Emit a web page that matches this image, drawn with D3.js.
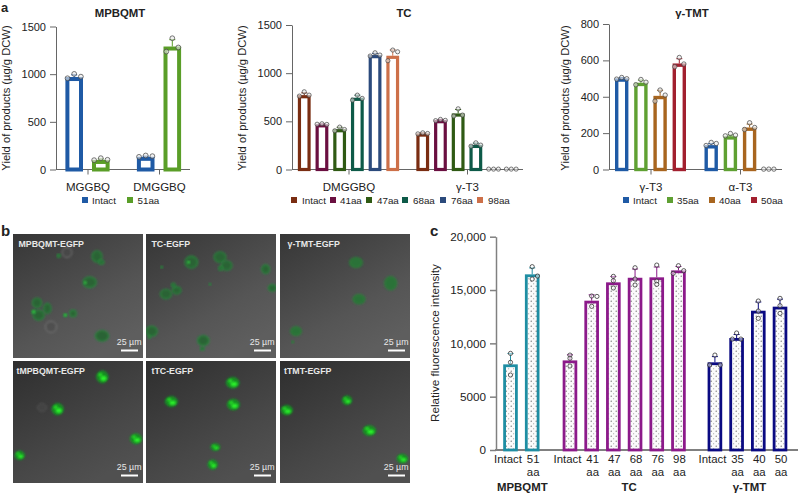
<!DOCTYPE html>
<html><head><meta charset="utf-8">
<script src="https://cdn.jsdelivr.net/npm/d3@7"></script>
<style>
html,body{margin:0;padding:0;background:#fff}
svg{display:block}
text{font-family:"Liberation Sans",Arial,sans-serif;fill:#222}
</style></head><body>
<div id="c"></div>
<script>
// ---------- DATA ----------
const a1Groups = ["MGGBQ","DMGGBQ"];
const a1Series = ["Intact","51aa"];
const a1Colors = ["#1f5aa5","#5a9e28"];
const a1Values = [[970,100],[133,1290]];
const a1Dots = [[[957,1003,974],[98,119,102]],[[133,147,140],[1237,1377,1280]]];

const a2Groups = ["DMGGBQ","γ-T3"];
const a2Series = ["Intact","41aa","47aa","68aa","76aa","98aa"];
const a2Colors = ["#7a2d12","#6a0f40","#2f5a14","#0d5a48","#2b4a7c","#cd7049"];
const a2Values = [[772,470,419,745,1188,1181],[374,513,582,256,4,4]];
const a2Dots = [
 [[762,807,772],[470,475,468],[402,440,415],[720,772,738],[1178,1212,1188],[1129,1240,1222]],
 [[370,381,374],[507,520,510],[555,630,565],[242,277,253],[4,4,4],[4,4,4]]];

const a3Groups = ["γ-T3","α-T3"];
const a3Series = ["Intact","35aa","40aa","50aa"];
const a3Colors = ["#1f5aa5","#5fa032","#a8651f","#a2202f"];
const a3Values = [[501,477,405,583],[134,183,231,2]];
const a3Dots = [
 [[497,506,499],[466,495,480],[376,437,409],[565,616,580]],
 [[132,149,143],[185,198,189],[220,257,231],[2,2,2]]];

const cLabels = ["Intact","51","Intact","41","47","68","76","98","Intact","35","40","50"];
const cValues = [8030,16470,8400,14000,15720,16150,16190,16840,8220,10500,13060,13440];
const cDots = [[9060,8220,7030],[17190,16030,16310],[8900,8600,7875],[13470,14400,14440],
 [16280,15875,15190],[17090,16030,15470],[17340,15840,15530],[17280,16560,16810],
 [8900,7970,7970],[10970,10400,10400],[13970,13030,12340],[14220,13530,12810]];
const cDotSide = [[0,0,0],[0,0,1],[0,0,0],[0,1,0],[0,0,0],[0,0,0],[0,0,0],[0,-1,1],
 [0,-1,1],[0,-.8,.8],[0,0,0],[0,0,0]];
const cGroupIndex = [0,0,1,1,1,1,1,1,2,2,2,2];
const cGroupNames = ["MPBQMT","TC","γ-TMT"];
const cColors = ["#1f8ea3","#8c1a8a","#0a0a82"];

const imgTitles = ["MPBQMT-EGFP","TC-EGFP","γ-TMT-EGFP","tMPBQMT-EGFP","tTC-EGFP","tTMT-EGFP"];
// cells: centre x, centre y, radius x, radius y, within a 390×370 image field
const imgCells = [
 [[252,67,15,17],[230,144,20,16],[72,205,14,14],[103,222,11,15],[77,242,17,15],[157,242,5,5],[180,237,10,10],[267,304,20,16],[137,65,5,5],[265,84,8,6],[62,232,6,6]],
 [[136,84,19,18],[222,69,18,16],[242,94,16,14],[224,102,6,6],[359,105,12,13],[379,161,12,10],[92,168,13,11],[60,179,17,14],[82,152,6,6],[17,290,17,15],[10,307,4,4],[172,318,17,15],[169,342,6,5],[192,150,3,3],[47,99,3,3]],
 [[228,85,19,15],[332,147,18,20],[237,195,18,14],[48,290,16,13],[38,322,3,3]],
 [[268,48,17,18],[134,146,17,17],[369,236,17,15],[20,286,14,13]],
 [[260,66,19,16],[76,123,18,15],[262,132,18,16],[208,261,13,10],[200,314,14,14]],
 [[20,149,17,14],[201,119,14,13],[268,211,19,15],[367,296,16,13]]
];
const imgGhosts = [[[114,277,17,17],[162,55,15,15]],[],[],[[87,141,14,12]],[],[]];
const imgSpots = [[[217,145],[157,242],[62,232]],[[128,84]],[],[],[],[]];

// ---------- LAYOUT ----------
const W=798,H=495;
const svg=d3.select("#c").append("svg").attr("width",W).attr("height",H).attr("viewBox",[0,0,W,H]);
const defs=svg.append("defs");
const pat=defs.append("pattern").attr("id","dots").attr("width",5).attr("height",5).attr("patternUnits","userSpaceOnUse");
pat.append("rect").attr("width",5).attr("height",5).attr("fill","#fbfbfb");
pat.append("circle").attr("cx",1.2).attr("cy",1.2).attr("r",.6).attr("fill","#555");
pat.append("circle").attr("cx",3.7).attr("cy",3.7).attr("r",.5).attr("fill","#888");
defs.append("filter").attr("id","soft").attr("x","-30%").attr("y","-30%").attr("width","160%").attr("height","160%")
  .append("feGaussianBlur").attr("stdDeviation",1);
defs.append("filter").attr("id","softer").attr("x","-40%").attr("y","-40%").attr("width","180%").attr("height","180%")
  .append("feGaussianBlur").attr("stdDeviation",1.2);
const gr=defs.append("linearGradient").attr("id","bgTop").attr("x1",0).attr("y1",0).attr("x2",.6).attr("y2",1);
gr.append("stop").attr("offset",0).attr("stop-color","#363636");
gr.append("stop").attr("offset",.7).attr("stop-color","#555");
gr.append("stop").attr("offset",1).attr("stop-color","#5e5e5e");
const gb=defs.append("linearGradient").attr("id","bgBot").attr("x1",0).attr("y1",0).attr("x2",.6).attr("y2",1);
gb.append("stop").attr("offset",0).attr("stop-color","#2e2e2e");
gb.append("stop").attr("offset",.7).attr("stop-color","#474747");
gb.append("stop").attr("offset",1).attr("stop-color","#505050");

function styleAxis(g,color,w,fs){
  g.selectAll(".domain").attr("stroke",color).attr("stroke-width",w);
  g.selectAll(".tick line").attr("stroke",color).attr("stroke-width",w);
  g.selectAll("text").attr("font-size",fs||11).attr("fill","#222").attr("font-family","Liberation Sans");
}

function panelA(o){
  const g=svg.append("g");
  const y=d3.scaleLinear().domain([0,o.ymax]).range([169.5,o.top]);
  const x0=d3.scalePoint().domain(o.groups).range(o.groupX);
  const n=o.series.length;
  const x1=d3.scaleBand().domain(o.series).range([-o.step*n/2,o.step*n/2]).paddingInner(0);
  const strokeW=o.sw;
  g.append("g").attr("transform",`translate(${o.axisX},0)`)
    .call(d3.axisLeft(y).tickValues(o.ticks).tickSize(6).tickSizeOuter(0).tickFormat(d3.format("d")))
    .call(a=>styleAxis(a,"#666",1)).call(a=>a.selectAll("text").attr("dx",-1));
  const xa=g.append("g").attr("transform","translate(0,169.5)")
    .call(d3.axisBottom(x0).tickSize(5).tickSizeOuter(0).tickPadding(8));
  xa.select(".domain").attr("d",`M${o.axisX},0H${o.axisEnd}`);
  styleAxis(xa,"#666",1,11.5);
  o.groups.forEach((gn,i)=>{
    o.series.forEach((s,j)=>{
      const v=o.values[i][j], c=o.colors[j], cx=x0(gn)+x1(s)+x1.bandwidth()/2, dots=o.dots[i][j];
      if(v>10){
        const dev=d3.deviation(dots);
        g.append("rect").attr("x",cx-o.bw/2+strokeW/2).attr("width",o.bw-strokeW)
          .attr("y",y(v)+strokeW/2).attr("height",y(0)-y(v)-strokeW/2).attr("fill","#fff").attr("stroke",c).attr("stroke-width",strokeW);
        g.append("line").attr("x1",cx).attr("x2",cx).attr("y1",y(v)).attr("y2",y(v+dev)).attr("stroke",c).attr("stroke-width",1);
        g.append("line").attr("x1",cx-3).attr("x2",cx+3).attr("y1",y(v+dev)).attr("y2",y(v+dev)).attr("stroke",c).attr("stroke-width",1);
      }
      dots.forEach((d,k)=>{
        const spread=(Math.abs(dots[0]-dots[1])>o.ymax*.04&&Math.abs(dots[1]-dots[2])>o.ymax*.04)?0:1;
        g.append("circle").attr("cx",cx+(k-1)*o.bw*.38*(spread||.9)).attr("cy",y(d)).attr("r",o.dotR)
          .attr("fill","#e8e8e8").attr("fill-opacity",.6).attr("stroke","#444").attr("stroke-width",.7);
      });
    });
  });
  g.append("text").attr("transform",`translate(${o.labelX},98) rotate(-90)`).attr("text-anchor","middle")
    .attr("font-size",11.2).text("Yield of products (µg/g DCW)");
  g.append("text").attr("x",o.titleX).attr("y",17).attr("text-anchor","middle").attr("font-weight","bold").attr("font-size",11.4).attr("fill","#111").text(o.title);
  o.series.forEach((s,j)=>{
    g.append("rect").attr("x",o.legendSwatch[j]).attr("y",197).attr("width",6).attr("height",6).attr("fill",o.colors[j]);
    g.append("text").attr("x",o.legendText[j]).attr("y",203.5).attr("font-size",9.8).attr("fill","#333").text(s);
  });
}

panelA({title:"MPBQMT",titleX:120,groups:a1Groups,series:a1Series,colors:a1Colors,values:a1Values,dots:a1Dots,dotR:2.4,
  ymax:1500,top:26.5,ticks:[0,500,1000,1500],axisX:56,axisEnd:190,groupX:[87.5,159],step:26.6,bw:17.6,sw:4,labelX:9.5,
  legendSwatch:[82,127],legendText:[92,137.5]});
panelA({title:"TC",titleX:404,groups:a2Groups,series:a2Series,colors:a2Colors,values:a2Values,dots:a2Dots,dotR:2.1,
  ymax:1500,top:25,ticks:[0,500,1000,1500],axisX:292,axisEnd:523,groupX:[348.5,467],step:17.7,bw:12.8,sw:3.2,labelX:245.5,
  legendSwatch:[291,330,366,402,440,477],legendText:[302,340,377,413,451,488]});
panelA({title:"γ-TMT",titleX:692,groups:a3Groups,series:a3Series,colors:a3Colors,values:a3Values,dots:a3Dots,dotR:2.2,
  ymax:800,top:24,ticks:[0,200,400,600,800],axisX:609,axisEnd:782,groupX:[650.5,740],step:19.2,bw:13.4,sw:3.4,labelX:569,
  legendSwatch:[623,667,709,751],legendText:[633,677,719,761]});

// panel labels
[["a",1,12,13],["b",1,236,15],["c",430,236,15]].forEach(([t,x,y,fs])=>
  svg.append("text").attr("x",x).attr("y",y).attr("font-weight","bold").attr("font-size",fs).attr("fill","#111").text(t));

// panel b
const imgX=[13,146,280], imgY=[234,361], imgH=[124,122], imgW=130;
imgTitles.forEach((t,i)=>{
  const col=i%3,row=Math.floor(i/3);
  const g=svg.append("g").attr("transform",`translate(${imgX[col]},${imgY[row]})`);
  const sx=d3.scaleLinear().domain([0,390]).range([0,imgW]);
  const sy=d3.scaleLinear().domain([0,370]).range([0,imgH[row]]);
  const cid="clip"+i;
  defs.append("clipPath").attr("id",cid).append("rect").attr("width",imgW).attr("height",imgH[row]);
  g.append("rect").attr("width",imgW).attr("height",imgH[row]).attr("fill",`url(#${row?"bgBot":"bgTop"})`);
  const inner=g.append("g").attr("clip-path",`url(#${cid})`);
  imgGhosts[i].forEach(c=>{
    inner.append("ellipse").attr("cx",sx(c[0])).attr("cy",sy(c[1])).attr("rx",sx(c[2])).attr("ry",sy(c[3]))
      .attr("fill","#4a4a4a").attr("fill-opacity",.5).attr("stroke",row?"#555":"#7c7c7c").attr("stroke-width",.8).attr("filter","url(#soft)");
  });
  imgCells[i].forEach(c=>{
    const e=inner.append("ellipse").attr("cx",sx(c[0])).attr("cy",sy(c[1])).attr("rx",sx(c[2])).attr("ry",sy(c[3]));
    if(row===0){
      e.attr("fill",i===2?"#2c7238":"#2a6436").attr("stroke",i===2?"#2a8038":"#278a3c").attr("stroke-width",1.1).attr("filter","url(#soft)");
    } else {
      e.attr("fill","#128a20").attr("stroke","#15a426").attr("stroke-width",.8).attr("filter","url(#soft)");
      inner.append("ellipse").attr("cx",sx(c[0]+c[2]*.2)).attr("cy",sy(c[1]+c[3]*.25)).attr("rx",sx(c[2]*.55)).attr("ry",sy(c[3]*.45))
        .attr("fill","#2cf02c").attr("filter","url(#softer)");
      inner.append("ellipse").attr("cx",sx(c[0]-c[2]*.35)).attr("cy",sy(c[1]-c[3]*.35)).attr("rx",sx(c[2]*.35)).attr("ry",sy(c[3]*.3))
        .attr("fill","#28e428").attr("filter","url(#softer)");
    }
  });
  imgSpots[i].forEach(s=>{
    inner.append("circle").attr("cx",sx(s[0])).attr("cy",sy(s[1])).attr("r",1.2).attr("fill","#33ee44").attr("filter","url(#soft)");
  });
  g.append("text").attr("x",row===0&&col===0?5.5:(col===0?3.5:(col===1?5.5:(row?4:7.5)))).attr("y",13)
    .attr("font-size",8.8).attr("font-weight","bold").attr("style","fill:#e8e8e8").text(t);
  g.append("text").attr("x",imgW-1.5).attr("y",imgH[row]-13.5).attr("text-anchor","end")
    .attr("font-size",8.8).attr("style","fill:#e8e8e8").text("25 µm");
  g.append("line").attr("x1",imgW-22).attr("x2",imgW-5).attr("y1",imgH[row]-7.5).attr("y2",imgH[row]-7.5).attr("stroke","#fff").attr("stroke-width",2);
});

// panel c
const cg=svg.append("g");
const cy=d3.scaleLinear().domain([0,20000]).range([450,236.7]);
const cGap=[0,1,2.74,3.74,4.74,5.74,6.74,7.74,9.42,10.42,11.42,12.42];
const cx=d3.scaleLinear().domain([0,1]).range([510.5,532.2]);
const cAxis=cg.append("g").attr("transform","translate(496,0)")
  .call(d3.axisLeft(cy).tickValues([0,5000,10000,15000,20000]).tickSize(6).tickSizeOuter(0)
    .tickFormat(d=>d>=10000?d3.format(",")(d):String(d)));
styleAxis(cAxis,"#808080",1.5,11.7);
cAxis.selectAll("text").attr("dx",-1);
cg.append("line").attr("x1",495).attr("x2",798).attr("y1",450).attr("y2",450).attr("stroke","#808080").attr("stroke-width",2);
cValues.forEach((v,i)=>{
  const c=cColors[cGroupIndex[i]],px=cx(cGap[i]),bw=14.6,sw=2.8,dots=cDots[i],dev=d3.deviation(dots);
  cg.append("rect").attr("x",px-bw/2+sw/2).attr("width",bw-sw).attr("y",cy(v)+sw/2).attr("height",cy(0)-cy(v)-sw/2)
    .attr("fill","url(#dots)").attr("stroke",c).attr("stroke-width",sw);
  cg.append("line").attr("x1",px).attr("x2",px).attr("y1",cy(v)).attr("y2",cy(v+dev)).attr("stroke",c).attr("stroke-width",1);
  cg.append("line").attr("x1",px-3).attr("x2",px+3).attr("y1",cy(v+dev)).attr("y2",cy(v+dev)).attr("stroke",c).attr("stroke-width",1);
  dots.forEach((d,k)=>{
    cg.append("circle").attr("cx",px+cDotSide[i][k]*5.3).attr("cy",cy(d)).attr("r",2.1)
      .attr("fill","#fff").attr("fill-opacity",.5).attr("stroke","#333").attr("stroke-width",.8);
  });
  const t=cLabels[i];
  if(t==="Intact"){
    cg.append("text").attr("x",px-2.5).attr("y",463).attr("text-anchor","middle").attr("font-size",11.4).text(t);
  } else {
    cg.append("text").attr("x",px+1).attr("y",463).attr("text-anchor","middle").attr("font-size",11.4).text(t);
    cg.append("text").attr("x",px+1).attr("y",476).attr("text-anchor","middle").attr("font-size",11.4).text("aa");
  }
});
cGroupNames.forEach((n,k)=>{
  const idx=d3.range(cValues.length).filter(i=>cGroupIndex[i]===k);
  const mid=d3.mean(idx,i=>cx(cGap[i]));
  cg.append("text").attr("x",mid+[1,5,2][k]).attr("y",491).attr("text-anchor","middle").attr("font-weight","bold").attr("font-size",11.4).attr("fill","#111").text(n);
});
cg.append("text").attr("transform","translate(439,343) rotate(-90)").attr("text-anchor","middle").attr("font-size",11.7).text("Relative fluorescence intensity");
</script>
</body></html>
